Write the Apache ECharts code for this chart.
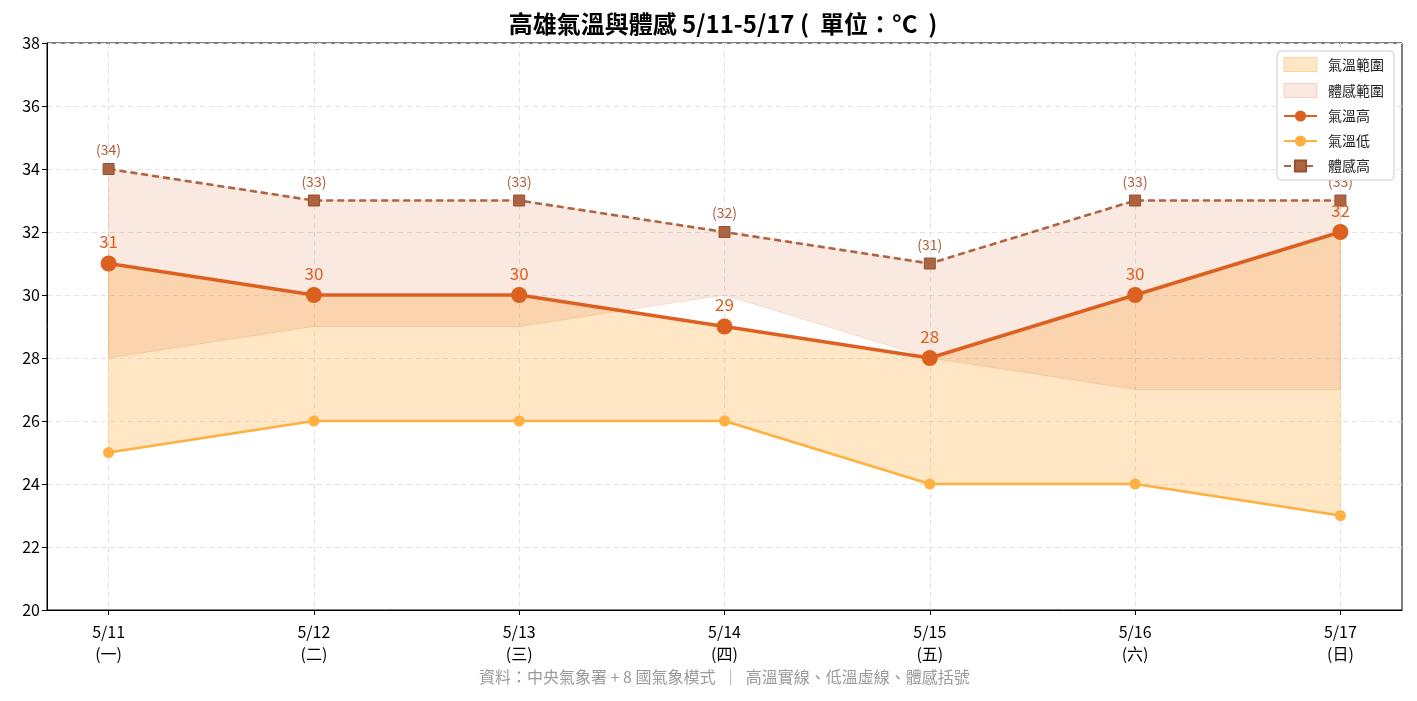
<!DOCTYPE html>
<html>
<head>
<meta charset="utf-8">
<script src="https://cdn.jsdelivr.net/npm/echarts@6/dist/echarts.min.js"></script>
<style>
  html, body { margin: 0; padding: 0; background: #fff; }
  #main { width: 1417px; height: 701px; }
</style>
</head>
<body>
<div id="main"></div>
<script>
var days = ["5/11", "5/12", "5/13", "5/14", "5/15", "5/16", "5/17"];
var weekdays = ["一", "二", "三", "四", "五", "六", "日"];
var tempHigh = [31, 30, 30, 29, 28, 30, 32];
var tempLow = [25, 26, 26, 26, 24, 24, 23];
var feelHigh = [34, 33, 33, 32, 31, 33, 33];
var feelLow = [28, 29, 29, 30, 28, 27, 27];
var yTicks = [20, 22, 24, 26, 28, 30, 32, 34, 36, 38];

var FONT = '"Noto Sans CJK TC", "Noto Sans", sans-serif';
var cHigh = "#dc6020";
var cLow = "#ffb040";
var cFeel = "#ad6443";
var fillTemp = "rgba(255,176,64,0.3)";
var fillFeel = "rgba(221,97,34,0.14)";

function pts(arr) {
  return arr.map(function (v, i) { return [i, v]; });
}

// band between two arrays, drawn as one polygon through the axes
function band(lowArr, highArr, fill, stroke) {
  return function (params, api) {
    var p = [];
    for (var i = 0; i < highArr.length; i++) p.push(api.coord([i, highArr[i]]));
    for (var j = lowArr.length - 1; j >= 0; j--) p.push(api.coord([j, lowArr[j]]));
    return {
      type: "polygon",
      shape: { points: p },
      style: { fill: fill, stroke: stroke, lineWidth: 1 },
    };
  };
}

var chartDom = document.getElementById("main");
var myChart = echarts.init(chartDom);
var option;

option = {
  backgroundColor: "#fff",
  animation: false,
  textStyle: { fontFamily: FONT },
  title: {
    text: "高雄氣溫與體感 5/11-5/17 (  單位：°C  )",
    left: 718,
    textAlign: "center",
    top: 7,
    textStyle: { fontFamily: FONT, fontSize: 24, fontWeight: "bold", color: "#000" },
  },
  grid: {
    left: 47,
    right: 15,
    top: 43,
    bottom: 91,
    show: true,
    borderColor: "#000",
    borderWidth: 1,
    backgroundColor: "transparent",
  },
  legend: {
    orient: "vertical",
    right: 23,
    top: 51,
    backgroundColor: "#fff",
    borderColor: "#cccccc",
    borderWidth: 1,
    borderRadius: 4,
    padding: [6, 10, 7, 6],
    itemGap: 11,
    itemWidth: 33,
    itemHeight: 14,
    textStyle: { fontFamily: FONT, fontSize: 14, color: "#222", padding: [0, 0, 0, 6] },
    data: [
      { name: "氣溫範圍", icon: "rect", itemStyle: { color: fillTemp, borderColor: "rgba(255,176,64,0.45)", borderWidth: 1 } },
      { name: "體感範圍", icon: "rect", itemStyle: { color: fillFeel, borderColor: "rgba(221,97,34,0.22)", borderWidth: 1 } },
      "氣溫高",
      "氣溫低",
      "體感高",
    ],
  },
  xAxis: {
    type: "value",
    min: -0.3,
    max: 6.3,
    splitNumber: 7,
    axisLine: { show: true, onZero: false, lineStyle: { color: "#000", width: 1 } },
    axisTick: { show: true, length: 5, lineStyle: { color: "#000" }, customValues: [0, 1, 2, 3, 4, 5, 6] },
    axisLabel: {
      customValues: [0, 1, 2, 3, 4, 5, 6],
      margin: 11,
      fontFamily: FONT,
      fontSize: 16,
      lineHeight: 22,
      color: "#000",
      formatter: function (value) {
        if (Math.abs(value - Math.round(value)) > 1e-6) return "";
        var i = Math.round(value);
        if (i < 0 || i >= days.length) return "";
        return days[i] + "\n(" + weekdays[i] + ")";
      },
    },
    splitLine: { show: true, lineStyle: { color: "#e2e2e2", type: [5, 4], width: 1 } },
  },
  yAxis: {
    type: "value",
    min: 20,
    max: 38,
    interval: 2,
    axisLine: { show: true, onZero: false, lineStyle: { color: "#000", width: 1 } },
    axisTick: { show: true, length: 5, lineStyle: { color: "#000" } },
    axisLabel: {
      fontFamily: FONT,
      fontSize: 16,
      color: "#000",
      margin: 7,
      formatter: function (v) {
        return yTicks.indexOf(v) >= 0 ? String(v) : "";
      },
    },
    splitLine: { show: true, lineStyle: { color: "#e2e2e2", type: [5, 4], width: 1 } },
  },
  series: [
    {
      name: "氣溫範圍",
      type: "custom",
      renderItem: band(tempLow, tempHigh, fillTemp, "rgba(255,176,64,0.3)"),
      data: [[0, tempLow[0]]],
      itemStyle: { color: fillTemp },
      silent: true,
      z: 1,
    },
    {
      name: "體感範圍",
      type: "custom",
      renderItem: band(feelLow, feelHigh, fillFeel, "rgba(221,97,34,0.16)"),
      data: [[0, feelLow[0]]],
      itemStyle: { color: fillFeel },
      silent: true,
      z: 1,
    },
    {
      name: "體感高",
      type: "line",
      data: pts(feelHigh),
      symbol: "rect",
      symbolSize: 11,
      itemStyle: { color: cFeel, borderColor: "#98502f", borderWidth: 1 },
      lineStyle: { color: cFeel, width: 2.6, type: [7, 4] },
      label: {
        show: true,
        position: "top",
        distance: 6,
        fontFamily: FONT,
        fontSize: 14,
        color: "#b05a34",
        formatter: function (p) { return "(" + p.value[1] + ")"; },
      },
      z: 3,
    },
    {
      name: "氣溫低",
      type: "line",
      data: pts(tempLow),
      symbol: "circle",
      symbolSize: 11,
      itemStyle: { color: cLow },
      lineStyle: { color: cLow, width: 2.6 },
      z: 4,
    },
    {
      name: "氣溫高",
      type: "line",
      data: pts(tempHigh),
      symbol: "circle",
      symbolSize: 16,
      itemStyle: { color: cHigh },
      lineStyle: { color: cHigh, width: 3.5 },
      label: {
        show: true,
        position: "top",
        distance: 5,
        fontFamily: FONT,
        fontSize: 17,
        color: cHigh,
        formatter: function (p) { return String(p.value[1]); },
      },
      z: 5,
    },
  ],
  graphic: [
    {
      type: "text",
      left: 479,
      top: 669,
      style: {
        text: "資料：中央氣象署 + 8 國氣象模式  ｜  高溫實線、低溫虛線、體感括號",
        fontFamily: FONT,
        fontSize: 16,
        fill: "#9a9a9a",
      },
    },
  ],
};

option && myChart.setOption(option, true);
</script>
</body>
</html>
